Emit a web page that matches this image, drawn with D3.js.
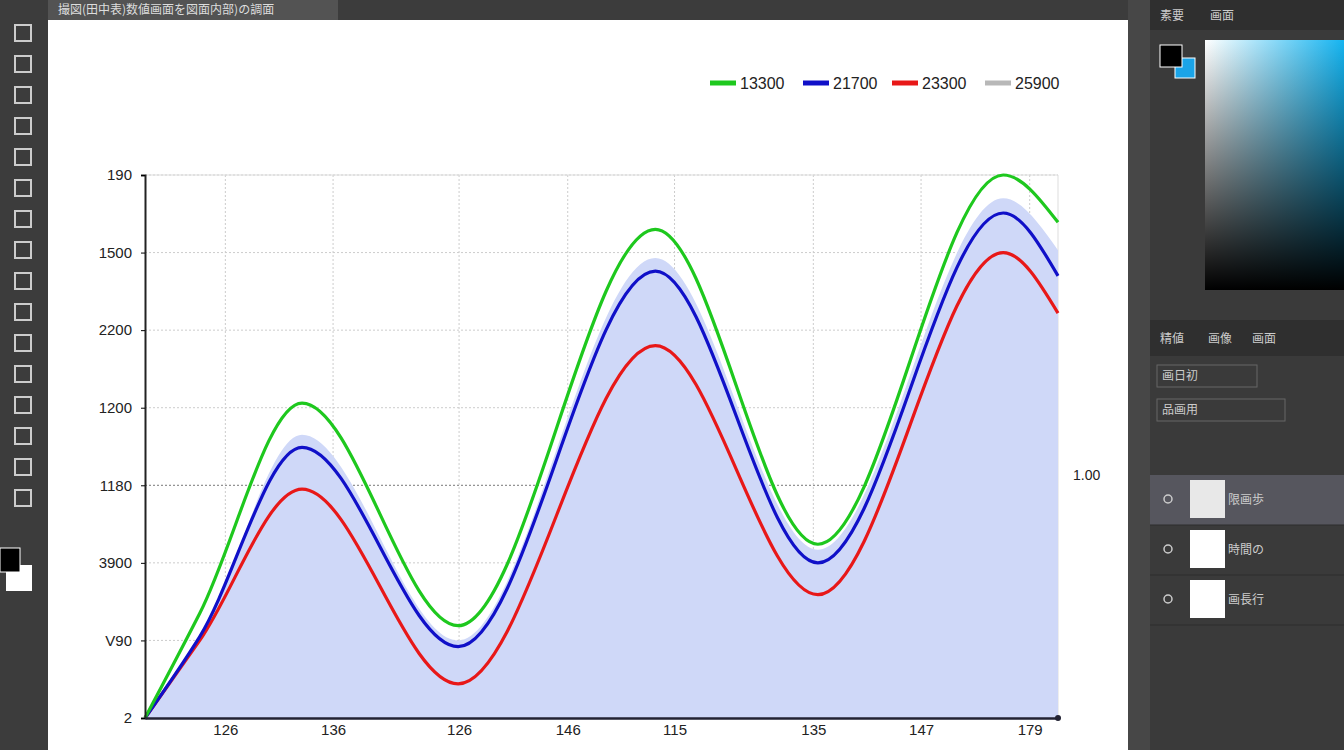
<!DOCTYPE html><html><head><meta charset="utf-8"><script src="https://cdn.jsdelivr.net/npm/d3@7"></script>
<style>body{margin:0;background:#3b3b3b;font-family:"Liberation Sans",Arial,sans-serif}</style></head><body><svg id="s" width="1344" height="750"></svg>
<script>
const seriesNames=["13300","21700","23300","25900"];
const colors=["#1ec81e","#1010c8","#e81818","#b8b8b8"];
const xs=[0,6,17.2,34.3,55.9,73.7,94,100];
const green=[0,1.35,4.06,1.19,6.30,2.24,7.0,6.39];
const blue=[0,1.05,3.49,0.92,5.76,2.0,6.51,5.70];
const red=[0,1.0,2.95,0.44,4.80,1.59,6.0,5.22];
const area=[0,1.0,3.65,1.0,5.93,2.17,6.7,6.03];
const yTickLabels=["2","V90","3900","1180","1200","2200","1500","190"];
const xTickVals=[8.8,20.6,34.4,46.3,58.0,73.2,85.0,96.9];
const xTickLabels=["126","136","126","146","115","135","147","179"];

const svg=d3.select("#s");
const defs=svg.append("defs");
svg.append("rect").attr("x",0).attr("y",0).attr("width",1344).attr("height",750).attr("fill","#3c3c3c");
svg.append("rect").attr("x",48).attr("y",0).attr("width",290).attr("height",20).attr("fill","#535353");
svg.append("text").attr("x",58).attr("y",14).attr("fill","#ddd").attr("font-size",12).attr("font-family","Noto Sans CJK SC").text("撮図(田中表)数値画面を図面内部)の調面");
svg.append("rect").attr("x",48).attr("y",20).attr("width",1080).attr("height",730).attr("fill","#fff");
svg.append("rect").attr("x",1128).attr("y",0).attr("width",22).attr("height",750).attr("fill","#474747");
svg.append("rect").attr("x",1150).attr("y",0).attr("width",194).attr("height",750).attr("fill","#3a3a3a");
svg.append("rect").attr("x",1150).attr("y",0).attr("width",194).attr("height",30).attr("fill","#2f2f2f");
const g1=defs.append("linearGradient").attr("id","gh");
g1.append("stop").attr("offset","0").attr("stop-color","#fff");g1.append("stop").attr("offset","1").attr("stop-color","#15b4f0");
const g2=defs.append("linearGradient").attr("id","gv").attr("x1",0).attr("x2",0).attr("y1",0).attr("y2",1);
g2.append("stop").attr("offset","0").attr("stop-color","#000").attr("stop-opacity",0);g2.append("stop").attr("offset","1").attr("stop-color","#000");
svg.append("rect").attr("x",1205).attr("y",40).attr("width",139).attr("height",250).attr("fill","url(#gh)");
svg.append("rect").attr("x",1205).attr("y",40).attr("width",139).attr("height",250).attr("fill","url(#gv)");
svg.append("rect").attr("x",1175).attr("y",58).attr("width",20).attr("height",20).attr("fill","#1aa4e8").attr("stroke","#fff");
svg.append("rect").attr("x",1160).attr("y",45).attr("width",22).attr("height",22).attr("fill","#000").attr("stroke","#fff");
svg.append("rect").attr("x",1150).attr("y",320).attr("width",194).attr("height",36).attr("fill","#2f2f2f");
svg.append("rect").attr("x",1150).attr("y",475).attr("width",194).attr("height",50).attr("fill","#56565e");
[[1160,20,"素要"],[1210,20,"画面"],[1160,343,"精値"],[1208,343,"画像"],[1252,343,"画面"],[1162,380,"画日初"],[1162,414,"品画用"],[1228,504,"限画歩"],[1228,554,"時間の"],[1228,604,"画長行"]]
 .forEach(d=>svg.append("text").attr("x",d[0]).attr("y",d[1]).attr("fill","#ccc").attr("font-size",12).attr("font-family","Noto Sans CJK SC").text(d[2]));
svg.append("rect").attr("x",1157).attr("y",365).attr("width",100).attr("height",22).attr("fill","none").attr("stroke","#666");
svg.append("rect").attr("x",1157).attr("y",399).attr("width",128).attr("height",22).attr("fill","none").attr("stroke","#666");
[[1190,480,"#e8e8e8"],[1190,530,"#fff"],[1190,580,"#fff"]].forEach(d=>{
 svg.append("rect").attr("x",d[0]).attr("y",d[1]).attr("width",35).attr("height",38).attr("fill",d[2]);
 svg.append("circle").attr("cx",1168).attr("cy",d[1]+19).attr("r",4).attr("fill","none").attr("stroke","#ccc").attr("stroke-width",1.5);
});
[500,550,600].forEach(y=>svg.append("line").attr("x1",1150).attr("x2",1344).attr("y1",y+25).attr("y2",y+25).attr("stroke","#2c2c2c"));
d3.range(16).forEach(i=>svg.append("rect").attr("x",15).attr("y",25+i*31).attr("width",16).attr("height",16).attr("fill","none").attr("stroke","#ccc").attr("stroke-width",2));
svg.append("rect").attr("x",6).attr("y",565).attr("width",26).attr("height",26).attr("fill","#fff");
svg.append("rect").attr("x",0).attr("y",548).attr("width",20).attr("height",24).attr("fill","#000").attr("stroke","#fff");

const L=145,R=1058,T=175,B=718;
const x=d3.scaleLinear().domain([0,100]).range([L,R]);
const y=d3.scaleLinear().domain([0,7]).range([B,T]);
const yt=d3.range(8);
svg.append("g").selectAll("line").data(yt.slice(1)).join("line").attr("x1",L).attr("x2",R).attr("y1",d=>y(d)).attr("y2",d=>y(d))
 .attr("stroke",d=>d===3?"#777":"#ccc").attr("stroke-dasharray","2,2");
svg.append("g").selectAll("line").data(xTickVals).join("line").attr("x1",d=>x(d)).attr("x2",d=>x(d)).attr("y1",T).attr("y2",B).attr("stroke","#ccc").attr("stroke-dasharray","2,2");
svg.append("line").attr("x1",L).attr("x2",R).attr("y1",T).attr("y2",T).attr("stroke","#ddd");
svg.append("line").attr("x1",R).attr("x2",R).attr("y1",T).attr("y2",B).attr("stroke","#ddd");
const curve=d3.curveMonotoneX;
svg.append("path").datum(area).attr("d",d3.area().x((d,i)=>x(xs[i])).y0(B).y1(d=>y(d)).curve(curve)).attr("fill","#cfd8f8");
[[red,colors[2]],[blue,colors[1]],[green,colors[0]]].forEach(([s,c])=>
 svg.append("path").datum(s).attr("d",d3.line().x((d,i)=>x(xs[i])).y(d=>y(d)).curve(curve)).attr("fill","none").attr("stroke",c).attr("stroke-width",3.2));
const ya=svg.append("g").attr("transform",`translate(${L},0)`).call(d3.axisLeft(y).tickValues(yt).tickFormat(i=>yTickLabels[i]).tickSize(4));
ya.select(".domain").attr("stroke","#222").attr("stroke-width",2);
ya.selectAll("text").attr("font-size",15).attr("fill","#222").attr("dx",-6);
const xa=svg.append("g").attr("transform",`translate(0,${B})`).call(d3.axisBottom(x).tickValues(xTickVals).tickFormat((d,i)=>xTickLabels[i]).tickSize(0));
xa.select(".domain").attr("stroke","#223").attr("stroke-width",2.5);
xa.selectAll("text").attr("font-size",15).attr("fill","#222").attr("dy",14);
svg.append("circle").attr("cx",R).attr("cy",B).attr("r",3).attr("fill","#223");
svg.append("text").attr("x",1073).attr("y",480).attr("font-size",14).attr("fill","#222").text("1.00");
const lx=[710,803,892,985];
seriesNames.forEach((n,i)=>{
 svg.append("line").attr("x1",lx[i]).attr("x2",lx[i]+26).attr("y1",83).attr("y2",83).attr("stroke",colors[i]).attr("stroke-width",5);
 svg.append("text").attr("x",lx[i]+30).attr("y",89).attr("font-size",16).attr("fill","#222").text(n);
});
</script></body></html>
